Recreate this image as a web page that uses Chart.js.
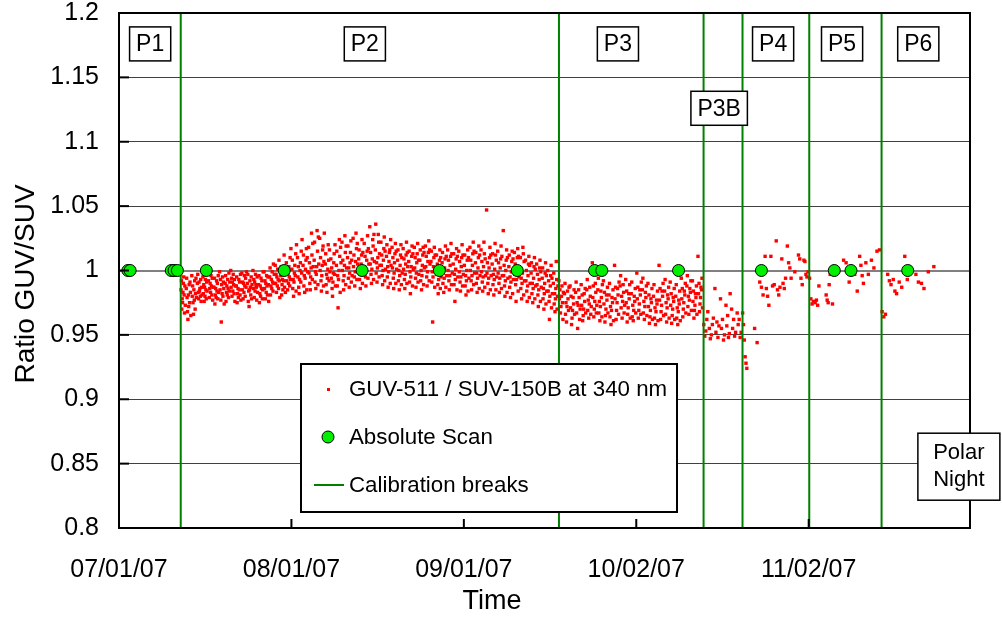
<!DOCTYPE html>
<html>
<head>
<meta charset="utf-8">
<script src="https://cdn.jsdelivr.net/npm/chart.js@4"></script>
<style>
  html, body { margin: 0; padding: 0; background: #fff; }
  #chart { display: block; }
</style>
</head>
<body>
<canvas id="chart" width="1002" height="619"></canvas>
<script>
// x values are days since 07/01/07
const tickDays = [0, 31, 62, 93, 124];
const tickLabels = ['07/01/07', '08/01/07', '09/01/07', '10/02/07', '11/02/07'];

// calibration breaks (vertical green lines)
const breakDays = [11.1, 79.1, 105.1, 112.1, 124.1, 137.1];

// absolute scans, all at ratio 1
const scanDays = [1.6, 2.0, 9.4, 9.9, 10.5, 15.7, 29.7, 43.7, 57.6, 71.6, 85.5, 86.8, 100.6, 115.5, 128.6, 131.6, 141.8];
const scanRatio = 1.0;

// period labels
const periodNames = ['P1', 'P2', 'P3', 'P3B', 'P4', 'P5', 'P6'];
const periodLabelDays = [5.6, 44.2, 89.7, 107.9, 117.6, 130.0, 143.7];
const periodLabelRatios = [1.176, 1.176, 1.176, 1.126, 1.176, 1.176, 1.176];

// GUV-511 / SUV-150B ratio at 340 nm, one row per day: [day, values...]
const ratioP2 = [
  [11, 0.998, 0.985, 0.992, 0.970, 0.978, 0.975, 0.983, 0.990, 0.995, 0.981, 0.967, 0.988, 0.973],
  [12, 0.986, 0.994, 0.979, 0.968, 0.962, 0.981, 0.972, 0.989, 0.975, 0.991, 0.983, 0.965],
  [13, 0.996, 0.980, 0.988, 0.975, 0.966, 0.985, 0.977, 0.992, 0.970, 0.982, 0.994, 0.979],
  [14, 0.990, 0.997, 0.983, 0.978, 0.991, 0.984, 0.986, 0.980, 0.993, 0.976, 0.987, 0.981],
  [15, 0.995, 0.982, 0.989, 0.976, 0.987, 0.980, 0.993, 0.985, 0.978, 0.991, 0.984, 0.997],
  [16, 0.992, 0.998, 0.979, 0.986, 0.990, 0.983, 0.996, 0.988, 0.981, 0.994, 0.977, 0.987],
  [17, 0.987, 0.994, 0.974, 0.981, 0.986, 0.979, 0.992, 0.984, 0.990, 0.978, 0.996, 0.983],
  [18, 0.999, 0.985, 0.993, 0.977, 0.960, 0.989, 0.982, 0.995, 0.980, 0.991, 0.986, 0.974],
  [19, 0.990, 0.996, 0.976, 0.983, 0.988, 0.981, 0.993, 0.986, 0.979, 0.998, 0.984, 0.991],
  [20, 1.000, 0.987, 0.994, 0.980, 0.991, 0.984, 0.997, 0.989, 0.982, 0.993, 0.976, 0.988],
  [21, 0.988, 0.995, 0.975, 0.982, 0.986, 0.979, 0.993, 0.985, 0.991, 0.981, 0.997, 0.977],
  [22, 0.998, 0.985, 0.991, 0.978, 0.990, 0.983, 0.996, 0.988, 0.980, 0.994, 0.987, 0.999],
  [23, 0.990, 0.997, 0.976, 0.984, 0.972, 0.985, 0.992, 0.987, 0.981, 0.995, 0.978, 0.989],
  [24, 1.000, 0.986, 0.993, 0.979, 0.991, 0.984, 0.997, 0.989, 0.987, 0.977, 0.995, 0.983],
  [25, 0.989, 0.996, 0.975, 0.982, 0.988, 0.980, 0.994, 0.986, 0.992, 0.978, 0.985, 0.999],
  [26, 0.999, 0.986, 0.992, 0.978, 0.990, 0.983, 0.996, 0.988, 0.981, 0.995, 0.989, 0.976],
  [27, 0.995, 1.002, 0.981, 0.988, 0.993, 0.986, 0.999, 0.991, 0.984, 1.005, 0.990, 0.997],
  [28, 1.004, 0.990, 0.997, 0.983, 0.995, 0.988, 1.001, 0.993, 0.986, 1.008, 0.992, 0.979],
  [29, 0.996, 1.003, 0.981, 0.989, 0.993, 0.985, 1.000, 0.992, 1.012, 0.987, 0.998, 0.983],
  [30, 1.006, 0.992, 0.999, 0.985, 0.997, 0.990, 1.003, 0.995, 0.988, 1.010, 0.993, 1.017],
  [31, 1.001, 1.008, 0.986, 0.993, 0.980, 0.991, 0.998, 1.004, 0.996, 1.013, 0.984, 1.020],
  [32, 1.010, 0.995, 1.003, 0.987, 0.982, 0.993, 1.000, 1.006, 0.991, 1.015, 0.998, 1.024],
  [33, 1.004, 1.012, 0.988, 0.996, 0.983, 0.994, 1.001, 1.008, 1.017, 0.985, 1.010, 0.999],
  [34, 1.018, 0.998, 1.006, 0.990, 0.985, 0.995, 1.002, 1.029, 1.012, 0.993, 1.021, 1.003],
  [35, 1.008, 1.022, 0.991, 0.999, 0.986, 0.997, 1.003, 1.031, 1.015, 0.989, 1.026, 1.005],
  [36, 1.025, 1.000, 1.010, 0.992, 0.984, 0.996, 1.004, 1.016, 1.019, 0.988, 1.007, 1.029],
  [37, 1.005, 1.013, 0.989, 0.997, 0.983, 0.994, 1.001, 1.020, 1.008, 0.992, 1.016, 0.999],
  [38, 1.009, 0.994, 1.002, 0.986, 0.980, 0.991, 0.998, 1.006, 1.013, 0.997, 1.020, 0.988],
  [39, 1.004, 1.015, 0.988, 0.996, 0.971, 0.993, 1.000, 1.024, 1.011, 0.983, 1.018, 1.006],
  [40, 1.022, 1.000, 1.008, 0.992, 0.985, 0.996, 1.004, 1.027, 1.014, 0.989, 1.019, 1.002],
  [41, 1.010, 1.019, 0.994, 1.002, 0.987, 0.998, 1.006, 1.014, 1.023, 0.991, 1.008, 0.996],
  [42, 1.025, 1.003, 1.012, 0.995, 0.988, 0.999, 1.007, 1.029, 1.017, 0.993, 1.021, 1.005],
  [43, 1.009, 1.016, 0.993, 1.001, 0.986, 0.997, 1.005, 1.012, 1.024, 0.990, 1.014, 0.998],
  [44, 1.021, 1.003, 1.011, 0.995, 0.988, 1.000, 1.008, 1.015, 1.027, 0.994, 1.017, 1.005],
  [45, 1.034, 1.005, 1.014, 0.997, 0.990, 1.001, 1.009, 1.024, 1.019, 0.993, 1.028, 1.007],
  [46, 1.016, 1.036, 0.998, 1.006, 0.991, 1.002, 1.010, 1.028, 1.022, 0.995, 1.013, 1.004],
  [47, 1.022, 1.004, 1.012, 0.996, 0.989, 1.000, 1.008, 1.017, 1.026, 0.992, 1.015, 1.001],
  [48, 1.011, 1.020, 0.995, 1.003, 0.987, 0.999, 1.007, 1.014, 1.016, 0.990, 1.024, 1.004],
  [49, 1.018, 1.002, 1.010, 0.994, 0.986, 0.998, 1.006, 1.013, 1.021, 0.990, 1.015, 1.001],
  [50, 1.008, 1.016, 0.992, 1.000, 0.985, 0.996, 1.004, 1.012, 1.020, 0.989, 1.010, 0.998],
  [51, 1.017, 1.001, 1.009, 0.993, 0.986, 0.997, 1.005, 1.012, 1.022, 0.990, 1.014, 1.003],
  [52, 1.007, 1.015, 0.991, 0.999, 0.982, 0.995, 1.003, 1.011, 1.019, 0.988, 1.013, 1.001],
  [53, 1.018, 1.002, 1.010, 0.994, 0.987, 0.998, 1.006, 1.013, 1.021, 0.991, 1.008, 0.997],
  [54, 1.008, 1.016, 0.992, 1.000, 0.985, 0.996, 1.004, 1.012, 1.018, 0.989, 1.014, 1.002],
  [55, 1.019, 1.003, 1.011, 0.995, 0.988, 0.999, 1.007, 1.014, 1.023, 0.992, 1.016, 1.005],
  [56, 1.007, 1.015, 0.991, 0.999, 0.960, 0.995, 1.003, 1.010, 1.018, 0.987, 1.012, 1.001],
  [57, 1.012, 0.997, 1.005, 0.989, 0.982, 0.993, 1.001, 1.008, 1.016, 0.986, 1.010, 0.995],
  [58, 1.006, 1.014, 0.990, 0.998, 0.983, 0.994, 1.002, 1.009, 1.019, 0.987, 1.011, 0.996],
  [59, 1.016, 1.000, 1.008, 0.992, 0.985, 0.996, 1.004, 1.011, 1.021, 0.989, 1.013, 0.998],
  [60, 1.005, 1.013, 0.989, 0.997, 0.976, 0.993, 1.001, 1.009, 1.017, 0.985, 1.011, 0.995],
  [61, 1.015, 0.999, 1.007, 0.991, 0.984, 0.995, 1.003, 1.010, 1.020, 0.988, 1.012, 0.997],
  [62, 1.004, 1.012, 0.988, 0.996, 0.981, 0.992, 1.000, 1.008, 1.016, 0.984, 1.010, 0.994],
  [63, 1.018, 1.000, 1.008, 0.992, 0.985, 0.996, 1.004, 1.013, 1.022, 0.989, 1.015, 0.998],
  [64, 1.006, 1.014, 0.990, 0.998, 0.983, 0.994, 1.002, 1.010, 1.019, 0.986, 1.012, 0.996],
  [65, 1.016, 0.999, 1.007, 0.991, 0.984, 0.995, 1.003, 1.022, 1.013, 0.987, 1.009, 0.996],
  [66, 1.047, 0.998, 1.006, 0.990, 0.982, 0.994, 1.002, 1.010, 1.018, 0.985, 1.012, 0.996],
  [67, 1.005, 1.013, 0.989, 0.997, 0.981, 0.993, 1.001, 1.021, 1.012, 0.985, 1.008, 0.995],
  [68, 1.015, 0.998, 1.006, 0.990, 0.983, 0.994, 1.002, 1.009, 1.019, 0.986, 1.011, 0.996],
  [69, 1.031, 0.996, 1.004, 0.988, 0.980, 0.992, 1.000, 1.008, 1.016, 0.983, 1.010, 0.994],
  [70, 1.003, 1.012, 0.987, 0.995, 0.979, 0.991, 0.999, 1.007, 1.015, 0.982, 1.009, 0.993],
  [71, 1.014, 0.997, 1.005, 0.989, 0.976, 0.993, 1.001, 1.010, 1.017, 0.984, 1.011, 0.995],
  [72, 1.002, 1.010, 0.986, 0.994, 0.978, 0.990, 0.998, 1.018, 1.013, 0.981, 1.007, 0.992],
  [73, 1.008, 0.992, 1.000, 0.984, 0.976, 0.988, 0.996, 1.005, 1.011, 0.979, 1.004, 0.990],
  [74, 0.998, 1.006, 0.982, 0.990, 0.975, 0.986, 0.994, 1.003, 1.010, 0.978, 1.001, 0.988],
  [75, 1.005, 0.989, 0.997, 0.981, 0.972, 0.985, 0.993, 1.002, 1.008, 0.976, 0.999, 0.987],
  [76, 0.994, 1.002, 0.978, 0.986, 0.970, 0.982, 0.990, 0.998, 1.006, 0.974, 0.996, 0.984],
  [77, 1.000, 0.984, 0.992, 0.976, 0.962, 0.980, 0.988, 0.996, 1.004, 0.971, 0.994, 0.982],
  [78, 0.990, 0.998, 0.974, 0.982, 0.968, 0.978, 0.986, 1.007, 0.993, 0.970, 0.980, 0.988]
];

const ratioP3 = [
  [79, 0.992, 0.978, 0.985, 0.967, 0.972, 0.980, 0.988, 0.975, 0.962, 0.983],
  [80, 0.982, 0.990, 0.966, 0.975, 0.960, 0.972, 0.984, 0.978, 0.969, 0.987],
  [81, 0.988, 0.971, 0.980, 0.958, 0.963, 0.969, 0.979, 0.974, 0.985, 0.966],
  [82, 0.983, 0.991, 0.967, 0.975, 0.955, 0.973, 0.985, 0.979, 0.962, 0.970],
  [83, 0.989, 0.973, 0.981, 0.961, 0.965, 0.970, 0.982, 0.976, 0.986, 0.967],
  [84, 0.985, 0.993, 0.969, 0.977, 0.963, 0.974, 0.987, 0.980, 0.966, 0.972],
  [85, 1.006, 0.979, 0.988, 0.964, 0.970, 0.976, 0.990, 0.983, 0.967, 0.973],
  [86, 0.985, 0.994, 0.967, 0.976, 0.961, 0.972, 0.984, 0.979, 0.964, 0.989],
  [87, 0.992, 0.974, 0.983, 0.960, 0.965, 0.970, 0.981, 0.977, 0.987, 0.967],
  [88, 0.981, 0.990, 0.964, 0.972, 0.958, 0.969, 0.979, 0.975, 0.985, 0.961],
  [89, 1.004, 0.978, 0.987, 0.962, 0.969, 0.975, 0.986, 0.981, 0.966, 0.991],
  [90, 0.988, 0.996, 0.971, 0.980, 0.963, 0.976, 0.989, 0.983, 0.967, 0.973],
  [91, 0.993, 0.975, 0.984, 0.960, 0.966, 0.971, 0.982, 0.978, 0.989, 0.963],
  [92, 0.982, 0.991, 0.964, 0.973, 0.961, 0.969, 0.980, 0.976, 0.986, 0.967],
  [93, 0.998, 0.978, 0.987, 0.963, 0.969, 0.974, 0.985, 0.981, 0.966, 0.991],
  [94, 0.985, 0.994, 0.967, 0.976, 0.962, 0.972, 0.983, 0.979, 0.988, 0.965],
  [95, 0.990, 0.972, 0.981, 0.959, 0.964, 0.969, 0.978, 0.975, 0.986, 0.962],
  [96, 0.980, 0.989, 0.963, 0.971, 0.958, 0.968, 0.977, 0.974, 0.984, 0.961],
  [97, 1.004, 0.977, 0.986, 0.962, 0.968, 0.973, 0.984, 0.980, 0.990, 0.965],
  [98, 0.984, 0.993, 0.966, 0.975, 0.960, 0.971, 0.981, 0.978, 0.987, 0.963],
  [99, 0.991, 0.973, 0.982, 0.959, 0.965, 0.970, 0.979, 0.976, 0.986, 0.962],
  [100, 0.980, 0.989, 0.963, 0.971, 0.958, 0.968, 0.977, 0.974, 0.984, 0.961],
  [101, 0.994, 0.978, 0.986, 0.964, 0.970, 0.975, 0.984, 0.981, 0.990, 0.967],
  [102, 0.988, 0.996, 0.972, 0.980, 0.966, 0.977, 0.986, 0.983, 0.992, 0.969],
  [103, 0.992, 0.976, 0.984, 0.963, 0.969, 0.973, 0.982, 0.979, 0.988, 0.966],
  [104, 1.011, 0.982, 0.990, 0.968, 0.974, 0.979, 0.987, 0.985, 0.994, 0.971]
];

const ratioP3B = [
  [105, 0.958, 0.949, 0.953, 0.962, 0.968],
  [106, 0.955, 0.947, 0.950, 0.958, 0.963],
  [107, 0.986, 0.952, 0.960, 0.948, 0.957],
  [108, 0.978, 0.955, 0.962, 0.946, 0.950],
  [109, 0.973, 0.957, 0.965, 0.948, 0.951, 0.982],
  [110, 0.970, 0.955, 0.962, 0.949, 0.952],
  [111, 0.967, 0.958, 0.962, 0.948, 0.952],
  [112, 0.967, 0.958, 0.946, 0.933, 0.928, 0.924]
];

const ratioP4 = [
  [114, 0.955, 0.944],
  [115, 0.991, 0.987, 0.981],
  [116, 1.011, 0.986, 0.980, 0.973],
  [117, 1.011, 0.988, 0.989],
  [118, 1.023, 0.985, 0.981, 0.987],
  [119, 1.009, 0.990, 0.986, 0.994],
  [120, 1.019, 1.006, 1.002, 0.994],
  [121, 0.999],
  [122, 1.012, 1.009, 0.994, 0.989],
  [123, 1.008, 1.007, 0.997, 0.995, 0.999]
];

const ratioP5 = [
  [124, 0.994, 0.978, 0.974, 0.976],
  [125, 0.975, 0.977, 0.973, 0.988],
  [127, 0.981, 0.977, 0.975, 0.989, 0.997],
  [128, 0.974, 0.999],
  [130, 1.008, 1.006],
  [131, 0.991, 1.002],
  [132, 0.997, 0.984],
  [133, 1.011, 1.004, 0.996, 0.990],
  [134, 1.006, 0.997],
  [135, 1.008, 1.002],
  [136, 1.015, 1.016]
];

const ratioP6 = [
  [137, 0.968, 0.964, 0.966],
  [138, 0.997, 0.992, 0.989],
  [139, 0.993, 0.984, 0.982],
  [140, 0.991, 0.987],
  [141, 1.011, 0.993],
  [143, 0.997, 0.991],
  [144, 0.990, 0.986],
  [145, 0.999],
  [146, 1.003]
];

// spread each day's readings across the day
function toPoints(rows) {
  const pts = [];
  rows.forEach(row => {
    const day = row[0];
    const vals = row.slice(1);
    vals.forEach((v, i) => {
      pts.push({ x: day + 0.05 + 0.9 * (i + 0.5) / vals.length, y: v });
    });
  });
  return pts;
}

const ratioPoints = [ratioP2, ratioP3, ratioP3B, ratioP4, ratioP5, ratioP6].flatMap(toPoints);
const scanPoints = scanDays.map(d => ({ x: d, y: scanRatio }));
const breakPoints = [];
breakDays.forEach(d => {
  breakPoints.push({ x: d, y: 0.8 }, { x: d, y: 1.2 }, { x: d, y: NaN });
});

const FONT = 'Liberation Sans, Arial, sans-serif';

// frame, inward ticks, titles, period boxes and legend
const decorations = {
  id: 'decorations',
  afterDraw(chart) {
    const ctx = chart.ctx;
    const area = chart.chartArea;
    const xs = chart.scales.x;
    const ys = chart.scales.y;
    ctx.save();

    // inward tick marks
    ctx.strokeStyle = '#000';
    ctx.lineWidth = 2;
    ys.ticks.forEach(t => {
      const py = ys.getPixelForValue(t.value);
      ctx.beginPath();
      ctx.moveTo(area.left, py);
      ctx.lineTo(area.left + 10, py);
      ctx.stroke();
    });
    xs.ticks.forEach(t => {
      const px = xs.getPixelForValue(t.value);
      ctx.beginPath();
      ctx.moveTo(px, area.bottom);
      ctx.lineTo(px, area.bottom - 9);
      ctx.stroke();
    });

    // plot frame
    ctx.strokeRect(area.left, area.top, area.right - area.left, area.bottom - area.top);

    // axis titles
    ctx.fillStyle = '#000';
    ctx.font = '27px ' + FONT;
    ctx.textAlign = 'center';
    ctx.textBaseline = 'middle';
    ctx.fillText('Time', area.left + 373, 602);
    ctx.save();
    ctx.translate(26, 284);
    ctx.rotate(-Math.PI / 2);
    ctx.font = '28px ' + FONT;
    ctx.fillText('Ratio GUV/SUV', 0, 0);
    ctx.restore();

    // period boxes
    ctx.font = '23px ' + FONT;
    periodNames.forEach((name, i) => {
      const cx = xs.getPixelForValue(periodLabelDays[i]);
      const cy = ys.getPixelForValue(periodLabelRatios[i]);
      const w = ctx.measureText(name).width + 13;
      const h = 34;
      ctx.fillStyle = '#fff';
      ctx.fillRect(cx - w / 2, cy - h / 2, w, h);
      ctx.lineWidth = 1.5;
      ctx.strokeStyle = '#000';
      ctx.strokeRect(cx - w / 2, cy - h / 2, w, h);
      ctx.fillStyle = '#000';
      ctx.fillText(name, cx, cy + 1);
    });

    // polar night box
    ctx.font = '22px ' + FONT;
    const pnx = xs.getPixelForValue(151);
    const pny = ys.getPixelForValue(0.848);
    ctx.fillStyle = '#fff';
    ctx.fillRect(pnx - 41, pny - 33, 82, 67);
    ctx.strokeRect(pnx - 41, pny - 33, 82, 67);
    ctx.fillStyle = '#000';
    ctx.fillText('Polar', pnx, pny - 13);
    ctx.fillText('Night', pnx, pny + 14);

    // legend
    const lx = area.left + 182, ly = area.top + 351, lw = 376, lh = 148;
    ctx.fillStyle = '#fff';
    ctx.fillRect(lx, ly, lw, lh);
    ctx.lineWidth = 2;
    ctx.strokeRect(lx, ly, lw, lh);
    ctx.textAlign = 'left';
    const rows = [ly + 25, ly + 73, ly + 121];
    ctx.fillStyle = '#ff0000';
    ctx.fillRect(lx + 26, rows[0] - 1, 3, 3);
    ctx.beginPath();
    ctx.arc(lx + 27, rows[1], 6, 0, Math.PI * 2);
    ctx.fillStyle = '#00ee00';
    ctx.fill();
    ctx.lineWidth = 1;
    ctx.strokeStyle = '#000';
    ctx.stroke();
    ctx.beginPath();
    ctx.moveTo(lx + 13, rows[2]);
    ctx.lineTo(lx + 43, rows[2]);
    ctx.lineWidth = 2;
    ctx.strokeStyle = '#008000';
    ctx.stroke();
    ctx.fillStyle = '#000';
    ctx.font = '22.3px ' + FONT;
    ctx.fillText('GUV-511 / SUV-150B at 340 nm', lx + 48, rows[0] + 1);
    ctx.fillText('Absolute Scan', lx + 48, rows[1] + 1);
    ctx.fillText('Calibration breaks', lx + 48, rows[2] + 1);

    ctx.restore();
  }
};

new Chart(document.getElementById('chart'), {
  type: 'scatter',
  data: {
    datasets: [
      {
        label: 'Absolute Scan',
        data: scanPoints,
        pointStyle: 'circle',
        pointRadius: 6,
        backgroundColor: '#00ee00',
        borderColor: '#000',
        borderWidth: 1,
        order: 0
      },
      {
        label: 'Calibration breaks',
        data: breakPoints,
        showLine: true,
        spanGaps: false,
        pointRadius: 0,
        borderColor: '#008000',
        borderWidth: 2,
        order: 1
      },
      {
        label: 'GUV-511 / SUV-150B at 340 nm',
        data: ratioPoints,
        pointStyle: 'rect',
        pointRadius: 2.4,
        borderWidth: 0,
        backgroundColor: '#ff0000',
        order: 2
      }
    ]
  },
  options: {
    responsive: false,
    animation: false,
    layout: { padding: { top: 13, right: 32, left: 0, bottom: 0 } },
    plugins: {
      legend: { display: false },
      tooltip: { enabled: false }
    },
    scales: {
      x: {
        type: 'linear',
        min: 0,
        max: 153,
        afterBuildTicks: scale => {
          scale.ticks = tickDays.map(v => ({ value: v }));
        },
        afterFit: scale => {
          scale.height = 91;
          scale.paddingLeft = 0;
          scale.paddingRight = 0;
        },
        ticks: {
          padding: 27,
          maxRotation: 0,
          color: '#000',
          font: { family: FONT, size: 25 },
          callback: v => tickLabels[tickDays.indexOf(v)]
        },
        grid: { drawOnChartArea: false, drawTicks: false },
        border: { color: '#000', width: 2 }
      },
      y: {
        min: 0.8,
        max: 1.2,
        afterFit: scale => {
          scale.width = 119;
          scale.paddingTop = 0;
          scale.paddingBottom = 0;
        },
        ticks: {
          stepSize: 0.05,
          padding: 20,
          color: '#000',
          font: { family: FONT, size: 25 },
          callback: v => String(parseFloat(v.toFixed(2)))
        },
        grid: {
          drawTicks: false,
          color: ctx => Math.abs(ctx.tick.value - 1) < 1e-6 ? '#808080' : '#404040',
          lineWidth: ctx => Math.abs(ctx.tick.value - 1) < 1e-6 ? 2 : 1
        },
        border: { color: '#000', width: 2 }
      }
    }
  },
  plugins: [decorations]
});
</script>
</body>
</html>
